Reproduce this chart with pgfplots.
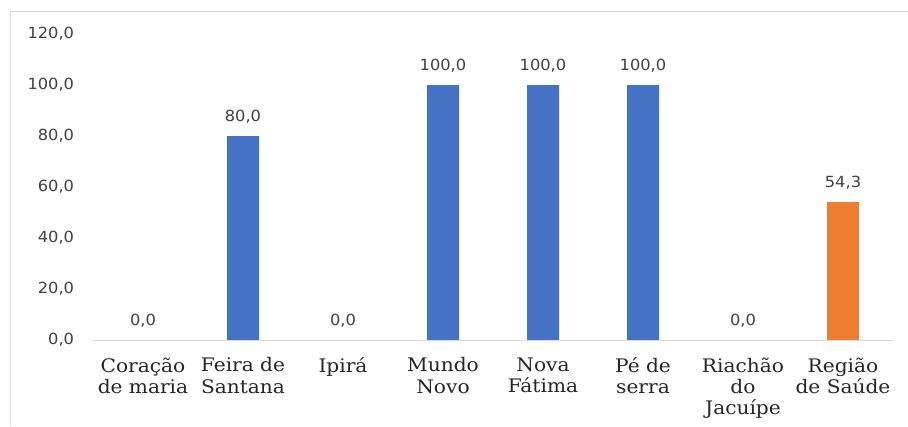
\documentclass[border=0pt]{standalone}
\usepackage{fontspec}
\usepackage{pgfplots}
\pgfplotsset{compat=1.18}
\newfontfamily\numfont[FakeStretch=1.06]{DejaVu Sans}
\newfontfamily\catfont[FakeStretch=1.08]{DejaVu Serif}
\definecolor{barblue}{HTML}{4472C4}
\definecolor{barorange}{HTML}{ED7D31}
\definecolor{txtgray}{HTML}{404040}
\definecolor{cattxt}{HTML}{262626}
\definecolor{axisgray}{HTML}{D9D9D9}
\begin{document}
\begin{tikzpicture}[x=1pt,y=1pt]
\path[use as bounding box] (0,0) rectangle (681,319.5);
\draw[axisgray, line width=0.75pt] (7.5,0) -- (7.5,310.5) -- (681,310.5);
\begin{axis}[
  at={(69.75pt,64.5pt)}, anchor=south west,
  width=600pt, height=229.5pt, scale only axis,
  xmin=-0.5, xmax=7.5, ymin=0, ymax=120,
  axis line style={draw=none},
  major tick length=0pt,
  ytick={0,20,...,120},
  xtick={0,...,7},
  xticklabels={{Coração\\de maria},{Feira de\\Santana},{Ipirá},{Mundo\\Novo},{Nova\\Fátima},{Pé de\\serra},{Riachão\\do\\Jacuípe},{Região\\de Saúde}},
  yticklabel style={font=\numfont\fontsize{11.5}{13}\selectfont, text=txtgray, anchor=east, inner sep=0pt, xshift=-14pt},
  xticklabel style={font=\catfont\fontsize{14}{16}\selectfont, text=cattxt, align=center, anchor=north, inner sep=0pt, yshift=-13pt},
  /pgf/number format/fixed,
  /pgf/number format/fixed zerofill,
  /pgf/number format/precision=1,
  /pgf/number format/use comma,
  /pgf/number format/assume math mode=true,
  ybar, bar width=24pt, bar shift=0pt,
  nodes near coords,
  nodes near coords style={font=\numfont\fontsize{11.5}{13}\selectfont, text=txtgray, anchor=south, inner sep=0pt, yshift=9pt},
  clip=false,
]
\addplot[fill=barblue, draw=none] coordinates {(0,0) (1,80) (2,0) (3,100) (4,100) (5,100) (6,0)};
\addplot[fill=barorange, draw=none] coordinates {(7,54.3)};
\draw[axisgray, line width=0.75pt] (axis cs:-0.5,0) -- (axis cs:7.5,0);
\end{axis}
\end{tikzpicture}
\end{document}
